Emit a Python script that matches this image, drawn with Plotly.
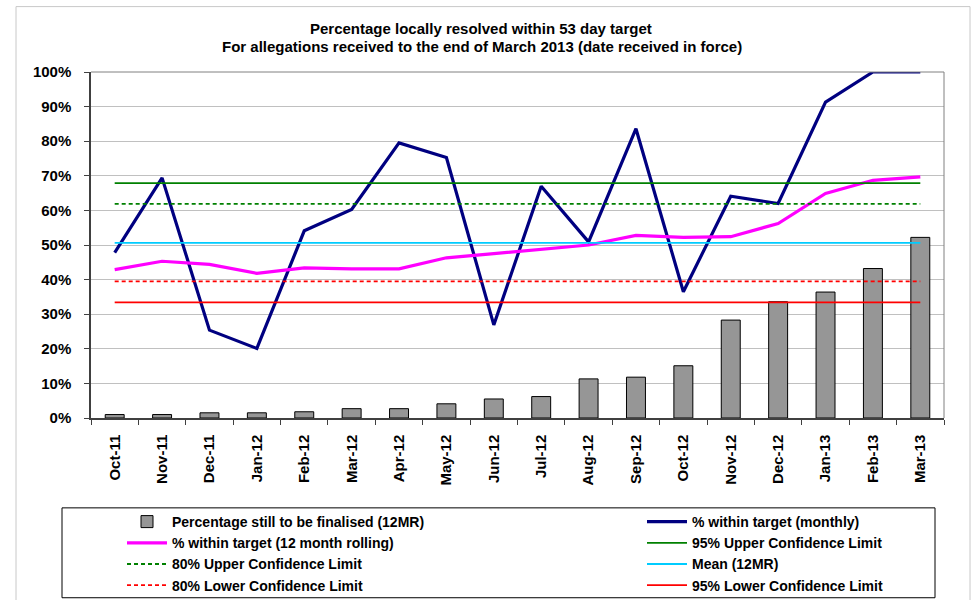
import plotly.graph_objects as go

months = ["Oct-11", "Nov-11", "Dec-11", "Jan-12", "Feb-12", "Mar-12", "Apr-12", "May-12", "Jun-12",
          "Jul-12", "Aug-12", "Sep-12", "Oct-12", "Nov-12", "Dec-12", "Jan-13", "Feb-13", "Mar-13"]
still_open = [1.0, 1.0, 1.5, 1.5, 1.8, 2.7, 2.7, 4.1, 5.5, 6.2, 11.3, 11.8, 15.1, 28.3, 33.6, 36.4, 43.2, 52.2]
monthly = [47.8, 69.4, 25.4, 20.1, 54.1, 60.3, 79.5, 75.3, 26.9, 67.0, 50.9, 83.6, 36.5, 64.1, 62.0, 91.3, 100, 100]
rolling = [42.9, 45.3, 44.4, 41.8, 43.4, 43.1, 43.1, 46.3, 47.5, 48.7, 50.0, 52.8, 52.2, 52.4, 56.2, 64.9, 68.7, 69.7]
ucl95 = 67.9
ucl80 = 61.9
mean12 = 50.6
lcl80 = 39.5
lcl95 = 33.4
title_lines = ["Percentage locally resolved within 53 day target",
               "For allegations received to the end of March 2013 (date received in force)"]

n = len(months)
FONT = "Liberation Sans Narrow, Arial Narrow, Liberation Sans, Arial, sans-serif"
BFONT = "Liberation Sans, Arial, sans-serif"

fig = go.Figure()
fig.add_trace(go.Bar(x=months, y=still_open, name="<b>Percentage still to be finalised (12MR)</b>",
                     marker=dict(color="#969696", line=dict(color="#000000", width=1)), width=0.4,
                     legend="legend"))
fig.add_trace(go.Scatter(x=months, y=monthly, mode="lines", name="<b>% within target (monthly)</b>",
                         line=dict(color="#000080", width=3.2), legend="legend2"))
fig.add_trace(go.Scatter(x=months, y=rolling, mode="lines", name="<b>% within target (12 month rolling)</b>",
                         line=dict(color="#FF00FF", width=3.2), legend="legend"))
fig.add_trace(go.Scatter(x=months, y=[ucl95] * n, mode="lines", name="<b>95% Upper Confidence Limit</b>",
                         line=dict(color="#008000", width=1.8), legend="legend2"))
fig.add_trace(go.Scatter(x=months, y=[ucl80] * n, mode="lines", name="<b>80% Upper Confidence Limit</b>",
                         line=dict(color="#008000", width=1.8, dash="4px,3px"), legend="legend"))
fig.add_trace(go.Scatter(x=months, y=[mean12] * n, mode="lines", name="<b>Mean (12MR)</b>",
                         line=dict(color="#00CCFF", width=1.8), legend="legend2"))
fig.add_trace(go.Scatter(x=months, y=[lcl80] * n, mode="lines", name="<b>80% Lower Confidence Limit</b>",
                         line=dict(color="#FF0000", width=1.8, dash="4px,3px"), legend="legend"))
fig.add_trace(go.Scatter(x=months, y=[lcl95] * n, mode="lines", name="<b>95% Lower Confidence Limit</b>",
                         line=dict(color="#FF0000", width=1.8), legend="legend2"))

L, R, T, B = 91, 944, 71.5, 418.0
W = R - L
H = B - T


def px(xp):
    return (xp - L) / W


def py(yp):
    return (B - yp) / H


leg_common = dict(orientation="v", xref="container", yref="container", xanchor="left", yanchor="top",
                  itemwidth=40, font=dict(size=14, family=FONT), bgcolor="rgba(0,0,0,0)",
                  traceorder="normal", borderwidth=0, tracegroupgap=0)

fig.update_layout(
    template="none",
    width=972, height=600,
    margin=dict(l=L, r=972 - R, t=T, b=600 - B, autoexpand=False),
    paper_bgcolor="white", plot_bgcolor="white",
    font=dict(family=BFONT, color="#000000", size=13),
    showlegend=True,
    legend=dict(x=122 / 972, y=1 - 506 / 600, **leg_common),
    legend2=dict(x=642 / 972, y=1 - 506 / 600, **leg_common),
    bargap=0.6,
    annotations=[
        dict(text="<b>%s</b>" % title_lines[0], xref="paper", yref="paper", x=px(481), y=py(27.5),
             xanchor="center", yanchor="middle", showarrow=False, font=dict(size=15, family=BFONT)),
        dict(text="<b>%s</b>" % title_lines[1], xref="paper", yref="paper", x=px(482), y=py(46),
             xanchor="center", yanchor="middle", showarrow=False, font=dict(size=15, family=BFONT)),
    ],
    shapes=[
        dict(type="rect", xref="paper", yref="paper", x0=px(16), x1=px(970), y0=py(640), y1=py(6),
             line=dict(color="#c8c8c8", width=1), fillcolor="rgba(0,0,0,0)", layer="below"),
        dict(type="rect", xref="paper", yref="paper", x0=px(62), x1=px(935), y0=py(598), y1=py(508),
             line=dict(color="#000000", width=1), fillcolor="rgba(0,0,0,0)"),
        dict(type="line", xref="paper", yref="paper", x0=0, x1=1, y0=1, y1=1,
             line=dict(color="#808080", width=1)),
        dict(type="line", xref="paper", yref="paper", x0=1, x1=1, y0=0, y1=1,
             line=dict(color="#808080", width=1)),
    ],
)
fig.update_xaxes(type="category", tickangle=-90, tickfont=dict(size=15, family=BFONT, color="#000"),
                 tickprefix="<b>", ticksuffix="</b>", automargin=False, ticklabelstandoff=9,
                 showline=True, linecolor="#404040", linewidth=1.5, ticks="outside", ticklen=5,
                 tickcolor="#404040", tickson="boundaries", showgrid=False, range=[-0.5, n - 0.5])
fig.update_yaxes(range=[0, 100], tickvals=list(range(0, 101, 10)),
                 ticktext=["<b>%d%%</b>" % v for v in range(0, 101, 10)], automargin=False,
                 tickfont=dict(size=15, family=BFONT, color="#000"), ticklabelstandoff=10,
                 showline=True, linecolor="#404040", linewidth=1.5, ticks="outside", ticklen=5,
                 tickcolor="#404040", showgrid=True, gridcolor="#c0c0c0", gridwidth=1, zeroline=False)

fig.write_html("out.html", config={"displayModeBar": False},
               post_script="document.body.style.margin='0px';")
